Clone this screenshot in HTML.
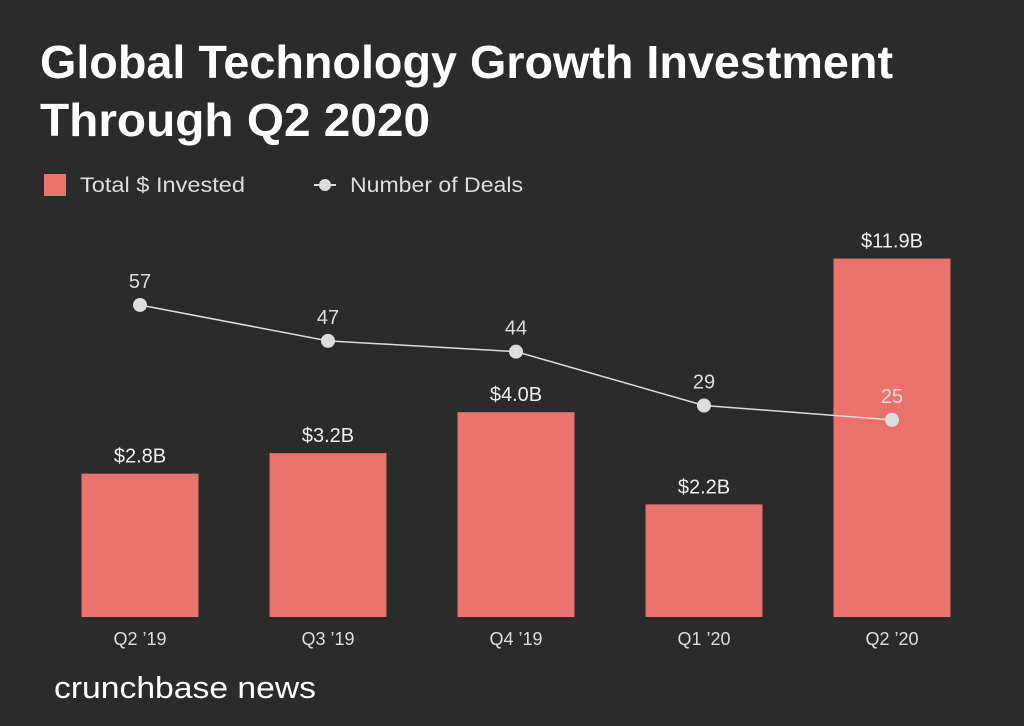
<!DOCTYPE html>
<html><head><meta charset="utf-8"><style>
body{margin:0;background:#2b2b2b;width:1024px;height:726px;overflow:hidden;font-family:"Liberation Sans",sans-serif;}
</style></head><body>
<svg width="1024" height="726" style="position:absolute;left:0;top:0">
<rect width="1024" height="726" fill="#2b2b2b"/>
<text x="40" y="78" fill="#fff" font-size="46" font-weight="bold" textLength="853" lengthAdjust="spacingAndGlyphs">Global Technology Growth Investment</text>
<text x="40" y="136" fill="#fff" font-size="46" font-weight="bold" textLength="390" lengthAdjust="spacingAndGlyphs">Through Q2 2020</text>
<g>
<rect x="44" y="174" width="22" height="22" fill="#e8736d"/>
<text x="80" y="192" fill="#ddd" font-size="21" textLength="165" lengthAdjust="spacingAndGlyphs">Total $ Invested</text>
<line x1="314" y1="185" x2="336" y2="185" stroke="#ddd" stroke-width="2"/>
<circle cx="325" cy="185" r="6" fill="#ddd"/>
<text x="350" y="192" fill="#ddd" font-size="21" textLength="173" lengthAdjust="spacingAndGlyphs">Number of Deals</text>
</g>
<g id="plot"></g>
<text x="54" y="698" fill="#fff" font-size="31" textLength="262" lengthAdjust="spacingAndGlyphs">crunchbase news</text>
</svg>
<script>
const categories=["Q2 ’19","Q3 ’19","Q4 ’19","Q1 ’20","Q2 ’20"];
const invested=[2.8,3.2,4.0,2.2,11.9];
const investedLabels=["$2.8B","$3.2B","$4.0B","$2.2B","$11.9B"];
const deals=[57,47,44,29,25];
const NS="http://www.w3.org/2000/svg";
const g=document.getElementById('plot');
const base=617;
function xc(i){return 140+i*188;}
function barH(v){return v<=4.5?v*51.2:230.4+(v-4.5)*17.3;}
function yDeal(v){return 509.6-3.59*v;}
function mk(t,a){const e=document.createElementNS(NS,t);for(const k in a)e.setAttribute(k,a[k]);g.appendChild(e);return e;}
categories.forEach((c,i)=>{
 const h=barH(invested[i]);
 const r=mk('rect',{x:xc(i)-58.5,y:base-h,width:117,height:h,fill:'#e8736d'});
 
 
 const t=mk('text',{x:xc(i),y:base-h-11,fill:'#eee','font-size':20,'text-anchor':'middle'});
 t.textContent=investedLabels[i];
 
 
 const xl=mk('text',{x:xc(i),y:645,fill:'#ddd','font-size':18,'text-anchor':'middle'});
 xl.textContent=c;
 
 
});
const pts=deals.map((d,i)=>xc(i)+','+yDeal(d)).join(' ');
const pl=mk('polyline',{points:pts,fill:'none',stroke:'#ddd','stroke-width':1.5});


deals.forEach((d,i)=>{
 const c=mk('circle',{cx:xc(i),cy:yDeal(d),r:7,fill:'#ddd'});
 
 
 const t=mk('text',{x:xc(i),y:yDeal(d)-17,fill:'#ddd','font-size':20,'text-anchor':'middle'});
 t.textContent=d;
 
 
});
</script>
</body></html>
